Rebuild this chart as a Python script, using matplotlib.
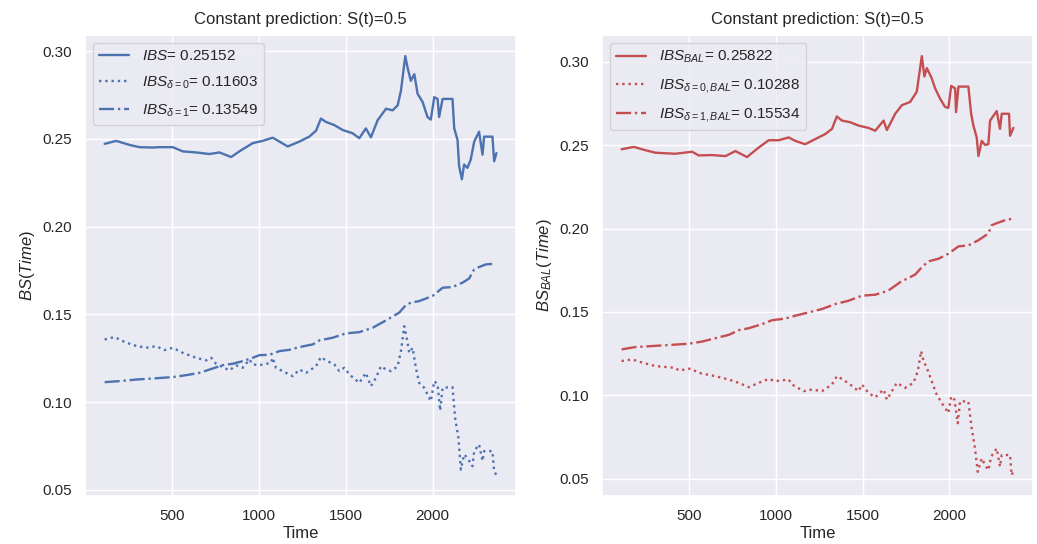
"""Brier score over time for a constant S(t)=0.5 prediction"""

import numpy as np
import matplotlib
matplotlib.use('Agg')
import matplotlib.pyplot as plt
import seaborn as sns

# --- plain Brier scores -------------------------------------------------
t_bs = [111, 178, 254, 312, 389, 427, 504, 561, 638, 715, 772, 840, 887,
        964, 1022, 1079, 1118, 1166, 1233, 1290, 1329, 1357, 1386, 1434,
        1482, 1540, 1578, 1616, 1645, 1684, 1732, 1770, 1799, 1818, 1843,
        1856, 1875, 1895, 1914, 1943, 1971, 1990, 2010, 2029, 2038, 2058,
        2115, 2125, 2144, 2153, 2169, 2182, 2201, 2220, 2240, 2268, 2288,
        2297, 2345, 2355, 2368]
bs = [0.2472, 0.2489, 0.2466, 0.2453, 0.2451, 0.2453, 0.2453, 0.2429,
      0.2423, 0.2414, 0.2423, 0.2397, 0.2429, 0.2476, 0.2489, 0.2507,
      0.2485, 0.2457, 0.2485, 0.2513, 0.2547, 0.2616, 0.2597, 0.2579,
      0.2551, 0.2532, 0.2504, 0.2560, 0.2509, 0.2607, 0.2672, 0.2663,
      0.2691, 0.2775, 0.2972, 0.2906, 0.2831, 0.2869, 0.2757, 0.2710,
      0.2625, 0.2610, 0.2738, 0.2728, 0.2625, 0.2728, 0.2728, 0.2560,
      0.2494, 0.2345, 0.2270, 0.2354, 0.2335, 0.2382, 0.2485, 0.2541,
      0.2410, 0.2513, 0.2513, 0.2373, 0.2419]

t_d0 = [111, 168, 216, 274, 350, 408, 456, 504, 561, 638, 696, 725, 753,
        830, 868, 907, 945, 964, 1003, 1070, 1079, 1098, 1156, 1195, 1233,
        1271, 1329, 1357, 1386, 1434, 1463, 1492, 1521, 1578, 1616, 1645,
        1674, 1703, 1732, 1761, 1799, 1818, 1837, 1851, 1866, 1885, 1904,
        1923, 1952, 1971, 1990, 2010, 2029, 2044, 2058, 2115, 2130, 2149,
        2163, 2182, 2201, 2230, 2240, 2268, 2288, 2297, 2345, 2355, 2368]
bs_d0 = [0.1357, 0.1371, 0.1348, 0.1325, 0.1310, 0.1319, 0.1297, 0.1310,
         0.1281, 0.1253, 0.1238, 0.1253, 0.1219, 0.1181, 0.1209, 0.1196,
         0.1243, 0.1215, 0.1211, 0.1224, 0.1253, 0.1196, 0.1167, 0.1148,
         0.1186, 0.1167, 0.1205, 0.1257, 0.1238, 0.1215, 0.1177, 0.1196,
         0.1158, 0.1110, 0.1167, 0.1091, 0.1139, 0.1205, 0.1186, 0.1177,
         0.1205, 0.1291, 0.1433, 0.1367, 0.1281, 0.1310, 0.1196, 0.1110,
         0.1082, 0.1044, 0.1006, 0.1120, 0.1101, 0.0952, 0.1082, 0.1086,
         0.0911, 0.0797, 0.0616, 0.0702, 0.0682, 0.0635, 0.0721, 0.0759,
         0.0665, 0.0721, 0.0721, 0.0606, 0.0584]

t_d1 = [111, 197, 293, 389, 504, 581, 657, 734, 792, 849, 907, 964, 1003,
        1060, 1118, 1175, 1233, 1310, 1348, 1424, 1501, 1578, 1655, 1732,
        1808, 1846, 1875, 1923, 2000, 2058, 2115, 2173, 2211, 2240, 2268,
        2307, 2355]
bs_d1 = [0.1114, 0.1120, 0.1129, 0.1135, 0.1143, 0.1154, 0.1167, 0.1192,
         0.1211, 0.1219, 0.1234, 0.1253, 0.1268, 0.1270, 0.1291, 0.1298,
         0.1314, 0.1329, 0.1352, 0.1367, 0.1392, 0.1399, 0.1424, 0.1466,
         0.1510, 0.1553, 0.1567, 0.1576, 0.1605, 0.1652, 0.1656, 0.1681,
         0.1705, 0.1757, 0.1770, 0.1785, 0.1789]

# --- balanced Brier scores ----------------------------------------------
t_bal = [113, 184, 251, 308, 423, 519, 557, 634, 711, 768, 835, 902, 960,
         1017, 1075, 1113, 1170, 1228, 1285, 1324, 1352, 1381, 1429, 1477,
         1534, 1573, 1621, 1640, 1688, 1726, 1774, 1812, 1841, 1856, 1870,
         1898, 1918, 1946, 1975, 1994, 2010, 2033, 2038, 2052, 2109, 2125,
         2138, 2157, 2167, 2186, 2205, 2224, 2234, 2272, 2291, 2301, 2343,
         2349, 2368]
bal = [0.2476, 0.2490, 0.2470, 0.2455, 0.2449, 0.2461, 0.2439, 0.2441,
       0.2435, 0.2465, 0.2429, 0.2486, 0.2530, 0.2530, 0.2547, 0.2526,
       0.2506, 0.2537, 0.2567, 0.2598, 0.2673, 0.2648, 0.2638, 0.2618,
       0.2604, 0.2587, 0.2648, 0.2591, 0.2689, 0.2740, 0.2760, 0.2821,
       0.3035, 0.2913, 0.2963, 0.2902, 0.2841, 0.2780, 0.2730, 0.2724,
       0.2856, 0.2841, 0.2699, 0.2852, 0.2852, 0.2689, 0.2618, 0.2547,
       0.2435, 0.2526, 0.2502, 0.2506, 0.2648, 0.2705, 0.2598, 0.2689,
       0.2689, 0.2557, 0.2604]

t_bal_d0 = [113, 174, 232, 308, 423, 443, 510, 557, 653, 730, 787, 845,
            902, 960, 998, 1075, 1094, 1161, 1209, 1266, 1324, 1352, 1381,
            1429, 1477, 1496, 1534, 1573, 1621, 1640, 1669, 1697, 1745,
            1793, 1818, 1837, 1851, 1870, 1898, 1927, 1956, 1994, 2010,
            2029, 2048, 2061, 2109, 2128, 2147, 2163, 2186, 2205, 2224,
            2240, 2272, 2291, 2301, 2349, 2358, 2368]
bal_d0 = [0.1205, 0.1215, 0.1195, 0.1175, 0.1164, 0.1148, 0.1160, 0.1134,
          0.1114, 0.1094, 0.1074, 0.1048, 0.1074, 0.1098, 0.1084, 0.1094,
          0.1064, 0.1024, 0.1034, 0.1024, 0.1064, 0.1114, 0.1098, 0.1064,
          0.1024, 0.1064, 0.1014, 0.0987, 0.1034, 0.0973, 0.1024, 0.1074,
          0.1044, 0.1074, 0.1144, 0.1265, 0.1205, 0.1164, 0.1084, 0.1003,
          0.0953, 0.0893, 0.0993, 0.0973, 0.0832, 0.0963, 0.0963, 0.0802,
          0.0681, 0.0540, 0.0621, 0.0581, 0.0550, 0.0631, 0.0681, 0.0571,
          0.0641, 0.0641, 0.0520, 0.0544]

t_bal_d1 = [113, 193, 289, 385, 500, 577, 653, 730, 787, 845, 921, 979,
            1056, 1113, 1190, 1266, 1343, 1420, 1496, 1573, 1649, 1716,
            1803, 1841, 1879, 1937, 1994, 2052, 2109, 2167, 2224, 2243,
            2282, 2320, 2364]
bal_d1 = [0.1275, 0.1289, 0.1295, 0.1301, 0.1309, 0.1322, 0.1342, 0.1362,
          0.1390, 0.1402, 0.1426, 0.1450, 0.1460, 0.1477, 0.1497, 0.1517,
          0.1547, 0.1567, 0.1597, 0.1603, 0.1628, 0.1678, 0.1724, 0.1768,
          0.1803, 0.1819, 0.1849, 0.1893, 0.1899, 0.1930, 0.1970, 0.2020,
          0.2036, 0.2050, 0.2060]

ibs = [0.25152, 0.11603, 0.13549]
ibs_bal = [0.25822, 0.10288, 0.15534]

sns.set_theme()
plt.rcParams['font.family'] = ['Liberation Sans', 'DejaVu Sans']
plt.rcParams['mathtext.fontset'] = 'custom'
plt.rcParams['mathtext.rm'] = 'Liberation Sans'
plt.rcParams['mathtext.it'] = 'Liberation Sans:italic'

BLUE = '#4c72b0'
RED = '#c44e52'
LW = 1.7

fig = plt.figure(figsize=(10.37, 5.44), dpi=100)
ax1 = fig.add_axes([0.082, 0.088, 0.4156, 0.8474])
ax2 = fig.add_axes([0.5805, 0.088, 0.4156, 0.8474])

ax1.plot(t_bs, bs, '-', color=BLUE, lw=LW,
         label=r'$IBS$= %.5f' % ibs[0])
ax1.plot(t_d0, bs_d0, ':', color=BLUE, lw=LW,
         label=r'$IBS_{\delta=0}$= %.5f' % ibs[1])
ax1.plot(t_d1, bs_d1, '-.', color=BLUE, lw=LW,
         label=r'$IBS_{\delta=1}$= %.5f' % ibs[2])
ax1.set_ylabel(r'$BS(Time)$')

ax2.plot(t_bal, bal, '-', color=RED, lw=LW,
         label=r'$IBS_{BAL}$= %.5f' % ibs_bal[0])
ax2.plot(t_bal_d0, bal_d0, ':', color=RED, lw=LW,
         label=r'$IBS_{\delta=0,BAL}$= %.5f' % ibs_bal[1])
ax2.plot(t_bal_d1, bal_d1, '-.', color=RED, lw=LW,
         label=r'$IBS_{\delta=1,BAL}$= %.5f' % ibs_bal[2])
ax2.set_ylabel(r'$BS_{BAL}(Time)$')

for ax in (ax1, ax2):
    ax.set_title('Constant prediction: S(t)=0.5', fontsize=12, pad=8)
    ax.set_xlabel('Time', fontsize=12, labelpad=2)
    ax.set_xticks([500, 1000, 1500, 2000])
    ax.tick_params(labelsize=11)
    ax.yaxis.set_major_formatter(matplotlib.ticker.FormatStrFormatter('%.2f'))
    ax.legend(loc='upper left', fontsize=11, labelspacing=0.75)

fig.savefig('out.png', dpi=100)
